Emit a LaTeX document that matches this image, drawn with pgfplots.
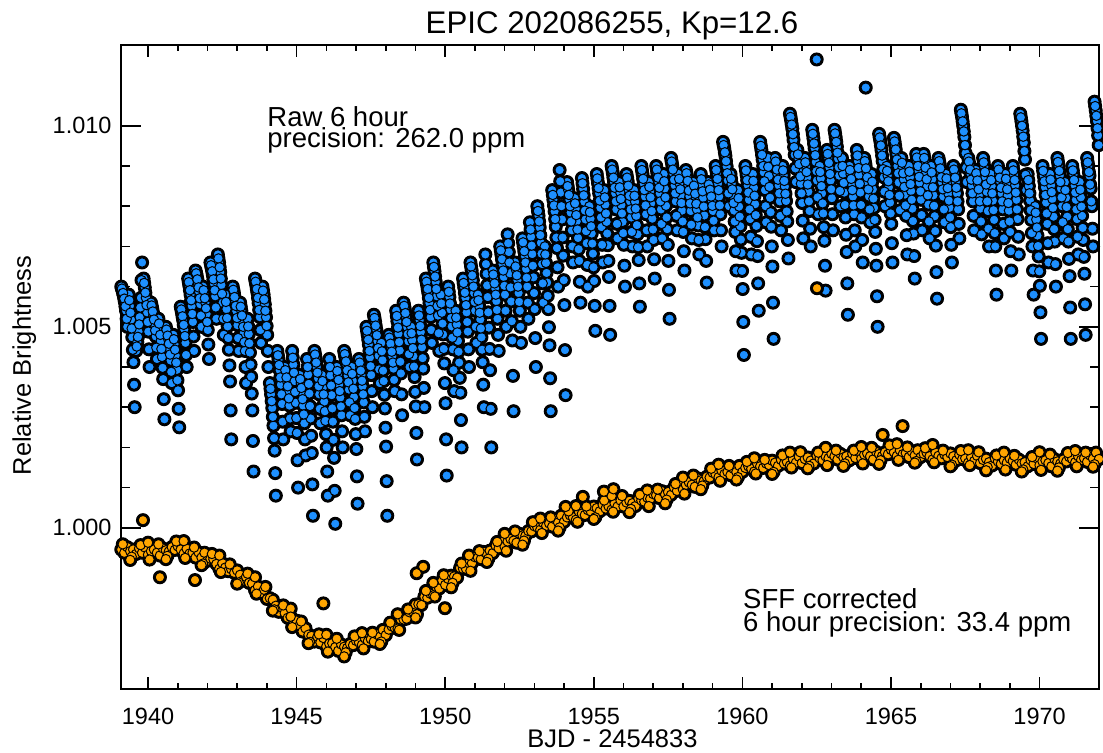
\documentclass[border=0pt]{standalone}
\usepackage{pgfplots}
\pgfplotsset{compat=1.18}
\usepackage{pgfplotstable}
\usepackage{fontspec}
\setmainfont{Liberation Sans}
\definecolor{rawblue}{RGB}{30,144,255}
\definecolor{sffor}{RGB}{255,165,0}

\pgfplotstableread{
x y
1939.10 1.0060
1939.14 1.0059
1939.18 1.00578
1939.22 1.00562
1939.26 1.0054
1939.30 1.0050
1939.35 1.0058
1939.39 1.00552
1939.43 1.00518
1939.47 1.00474
1939.51 1.00412
1939.55 1.0030
1939.60 1.0044
1939.64 1.00462
1939.68 1.00488
1939.72 1.00524
1939.76 1.00572
1939.80 1.0066
1939.85 1.0062
1939.89 1.00598
1939.93 1.00572
1939.97 1.00536
1940.01 1.00488
1940.05 1.0040
1940.10 1.0056
1940.14 1.00546
1940.18 1.00529
1940.22 1.00507
1940.26 1.00476
1940.30 1.0042
1940.35 1.0052
1940.39 1.00495
1940.43 1.00465
1940.47 1.00425
1940.51 1.0037
1940.55 1.0027
1940.60 1.0050
1940.64 1.00486
1940.68 1.00469
1940.72 1.00447
1940.76 1.00416
1940.80 1.0036
1940.85 1.0048
1940.89 1.00457
1940.93 1.00429
1940.97 1.00393
1941.01 1.00342
1941.05 1.0025
1941.10 1.0055
1941.14 1.00535
1941.18 1.00517
1941.22 1.00493
1941.26 1.0046
1941.30 1.0040
1941.35 1.0062
1941.39 1.00602
1941.43 1.0058
1941.47 1.00552
1941.51 1.00512
1941.55 1.0044
1941.60 1.0064
1941.64 1.00626
1941.68 1.00609
1941.72 1.00587
1941.76 1.00556
1941.80 1.0050
1941.85 1.0060
1941.89 1.00582
1941.93 1.0056
1941.97 1.00532
1942.01 1.00492
1942.05 1.0042
1942.10 1.0066
1942.14 1.00646
1942.18 1.00629
1942.22 1.00607
1942.26 1.00576
1942.30 1.0052
1942.35 1.0068
1942.39 1.0066
1942.43 1.00636
1942.47 1.00604
1942.51 1.0056
1942.55 1.0048
1942.60 1.0058
1942.64 1.00544
1942.68 1.00501
1942.72 1.00443
1942.76 1.00364
1942.80 1.0022
1942.85 1.0060
1942.89 1.00584
1942.93 1.00565
1942.97 1.00539
1943.01 1.00504
1943.05 1.0044
1943.10 1.0056
1943.14 1.0054
1943.18 1.00516
1943.22 1.00484
1943.26 1.0044
1943.30 1.0036
1943.35 1.0052
1943.39 1.00482
1943.43 1.00436
1943.47 1.00376
1943.51 1.00292
1943.55 1.0014
1943.60 1.0062
1943.64 1.00604
1943.68 1.00585
1943.72 1.00559
1943.76 1.00524
1943.80 1.0046
1943.85 1.0060
1943.89 1.0058
1943.93 1.00556
1943.97 1.00524
1944.01 1.0048
1944.05 1.0040
1944.10 1.0036
1944.14 1.00332
1944.18 1.00298
1944.22 1.00254
1944.26 1.00192
1944.30 1.0008
1944.35 1.0044
1944.39 1.00418
1944.43 1.00392
1944.47 1.00356
1944.51 1.00308
1944.55 1.0022
1944.60 1.0040
1944.64 1.00384
1944.68 1.00365
1944.72 1.00339
1944.76 1.00304
1944.80 1.0024
1944.85 1.0044
1944.89 1.00406
1944.93 1.00365
1944.97 1.00311
1945.01 1.00236
1945.05 1.0010
1945.10 1.0038
1945.14 1.0036
1945.18 1.00336
1945.22 1.00304
1945.26 1.0026
1945.30 1.0018
1945.35 1.0042
1945.39 1.00381
1945.43 1.00334
1945.47 1.00272
1945.51 1.00186
1945.55 1.0003
1945.60 1.0044
1945.64 1.00422
1945.68 1.0040
1945.72 1.00372
1945.76 1.00332
1945.80 1.0026
1945.85 1.0038
1945.89 1.0035
1945.93 1.00314
1945.97 1.00266
1946.01 1.0020
1946.05 1.0008
1946.10 1.0042
1946.14 1.00379
1946.18 1.0033
1946.22 1.00264
1946.26 1.00174
1946.30 1.0001
1946.35 1.0040
1946.39 1.0038
1946.43 1.00356
1946.47 1.00324
1946.51 1.0028
1946.55 1.0020
1946.60 1.0044
1946.64 1.00424
1946.68 1.00405
1946.72 1.00379
1946.76 1.00344
1946.80 1.0028
1946.85 1.0040
1946.89 1.00366
1946.93 1.00325
1946.97 1.00271
1947.01 1.00196
1947.05 1.0006
1947.10 1.0042
1947.14 1.00402
1947.18 1.0038
1947.22 1.00352
1947.26 1.00312
1947.30 1.0024
1947.35 1.0050
1947.39 1.0048
1947.43 1.00456
1947.47 1.00424
1947.51 1.0038
1947.55 1.0030
1947.60 1.0053
1947.64 1.00513
1947.68 1.00493
1947.72 1.00465
1947.76 1.00428
1947.80 1.0036
1947.85 1.0046
1947.89 1.00417
1947.93 1.00365
1947.97 1.00297
1948.01 1.00202
1948.05 1.0003
1948.10 1.0048
1948.14 1.00466
1948.18 1.00449
1948.22 1.00427
1948.26 1.00396
1948.30 1.0034
1948.35 1.0054
1948.39 1.00514
1948.43 1.00483
1948.47 1.00441
1948.51 1.00384
1948.55 1.0028
1948.60 1.0056
1948.64 1.00544
1948.68 1.00525
1948.72 1.00499
1948.76 1.00464
1948.80 1.0040
1948.85 1.0050
1948.89 1.00467
1948.93 1.00427
1948.97 1.00375
1949.01 1.00302
1949.05 1.0017
1949.10 1.0054
1949.14 1.00516
1949.18 1.00487
1949.22 1.00449
1949.26 1.00396
1949.30 1.0030
1949.35 1.0062
1949.39 1.00604
1949.43 1.00585
1949.47 1.00559
1949.51 1.00524
1949.55 1.0046
1949.60 1.0066
1949.64 1.00638
1949.68 1.00612
1949.72 1.00576
1949.76 1.00528
1949.80 1.0044
1949.85 1.0058
1949.89 1.00535
1949.93 1.00481
1949.97 1.00409
1950.01 1.0031
1950.05 1.0013
1950.10 1.0060
1950.14 1.00574
1950.18 1.00543
1950.22 1.00501
1950.26 1.00444
1950.30 1.0034
1950.35 1.0054
1950.39 1.00506
1950.43 1.00465
1950.47 1.00411
1950.51 1.00336
1950.55 1.0020
1950.60 1.0062
1950.64 1.00598
1950.68 1.00572
1950.72 1.00536
1950.76 1.00488
1950.80 1.0040
1950.85 1.0066
1950.89 1.0064
1950.93 1.00616
1950.97 1.00584
1951.01 1.0054
1951.05 1.0046
1951.10 1.0058
1951.14 1.00552
1951.18 1.00518
1951.22 1.00474
1951.26 1.00412
1951.30 1.0030
1951.35 1.0068
1951.39 1.00632
1951.43 1.00574
1951.47 1.00498
1951.51 1.00392
1951.55 1.0020
1951.60 1.0064
1951.64 1.0062
1951.68 1.00596
1951.72 1.00564
1951.76 1.0052
1951.80 1.0044
1951.85 1.0070
1951.89 1.0068
1951.93 1.00656
1951.97 1.00624
1952.01 1.0058
1952.05 1.0050
1952.10 1.0073
1952.14 1.00686
1952.18 1.00633
1952.22 1.00563
1952.26 1.00466
1952.30 1.0029
1952.35 1.0066
1952.39 1.0064
1952.43 1.00616
1952.47 1.00584
1952.51 1.0054
1952.55 1.0046
1952.60 1.0072
1952.64 1.0070
1952.68 1.00676
1952.72 1.00644
1952.76 1.0060
1952.80 1.0052
1952.85 1.0076
1952.89 1.00724
1952.93 1.00681
1952.97 1.00623
1953.01 1.00544
1953.05 1.0040
1953.10 1.0080
1953.14 1.00776
1953.18 1.00747
1953.22 1.00709
1953.26 1.00656
1953.30 1.0056
1953.35 1.0070
1953.39 1.00659
1953.43 1.0061
1953.47 1.00544
1953.51 1.00454
1953.55 1.0029
1953.60 1.0084
1953.64 1.00816
1953.68 1.00787
1953.72 1.00749
1953.76 1.00696
1953.80 1.0060
1953.85 1.0089
1953.89 1.00834
1953.93 1.00767
1953.97 1.00677
1954.01 1.00554
1954.05 1.0033
1954.10 1.0086
1954.14 1.0084
1954.18 1.00816
1954.22 1.00784
1954.26 1.0074
1954.30 1.0066
1954.35 1.0082
1954.39 1.00794
1954.43 1.00763
1954.47 1.00721
1954.51 1.00664
1954.55 1.0056
1954.60 1.0087
1954.64 1.00843
1954.68 1.00811
1954.72 1.00767
1954.76 1.00708
1954.80 1.0060
1954.85 1.0080
1954.89 1.00769
1954.93 1.00732
1954.97 1.00682
1955.01 1.00614
1955.05 1.0049
1955.10 1.0088
1955.14 1.00858
1955.18 1.00832
1955.22 1.00796
1955.26 1.00748
1955.30 1.0066
1955.35 1.0084
1955.39 1.00804
1955.43 1.00761
1955.47 1.00703
1955.51 1.00624
1955.55 1.0048
1955.60 1.0090
1955.64 1.00882
1955.68 1.0086
1955.72 1.00832
1955.76 1.00792
1955.80 1.0072
1955.85 1.0086
1955.89 1.00834
1955.93 1.00803
1955.97 1.00761
1956.01 1.00704
1956.05 1.0060
1956.10 1.0088
1956.14 1.00862
1956.18 1.0084
1956.22 1.00812
1956.26 1.00772
1956.30 1.0070
1956.35 1.0084
1956.39 1.00811
1956.43 1.00776
1956.47 1.0073
1956.51 1.00666
1956.55 1.0055
1956.60 1.0090
1956.64 1.0088
1956.68 1.00856
1956.72 1.00824
1956.76 1.0078
1956.80 1.0070
1956.85 1.0086
1956.89 1.00836
1956.93 1.00807
1956.97 1.00769
1957.01 1.00716
1957.05 1.0062
1957.10 1.0090
1957.14 1.00882
1957.18 1.0086
1957.22 1.00832
1957.26 1.00792
1957.30 1.0072
1957.35 1.0088
1957.39 1.00844
1957.43 1.00801
1957.47 1.00743
1957.51 1.00664
1957.55 1.0052
1957.60 1.0092
1957.64 1.00902
1957.68 1.0088
1957.72 1.00852
1957.76 1.00812
1957.80 1.0074
1957.85 1.0088
1957.89 1.00856
1957.93 1.00827
1957.97 1.00789
1958.01 1.00736
1958.05 1.0064
1958.10 1.0089
1958.14 1.00873
1958.18 1.00853
1958.22 1.00825
1958.26 1.00788
1958.30 1.0072
1958.35 1.0086
1958.39 1.00842
1958.43 1.0082
1958.47 1.00792
1958.51 1.00752
1958.55 1.0068
1958.60 1.0088
1958.64 1.00853
1958.68 1.00821
1958.72 1.00777
1958.76 1.00718
1958.80 1.0061
1958.85 1.0086
1958.89 1.00848
1958.93 1.00834
1958.97 1.00814
1959.01 1.00788
1959.05 1.0074
1959.10 1.0090
1959.14 1.0088
1959.18 1.00856
1959.22 1.00824
1959.26 1.0078
1959.30 1.0070
1959.35 1.0096
1959.39 1.00944
1959.43 1.00925
1959.47 1.00899
1959.51 1.00864
1959.55 1.0080
1959.60 1.0088
1959.64 1.00856
1959.68 1.00827
1959.72 1.00789
1959.76 1.00736
1959.80 1.0064
1959.85 1.0084
1959.89 1.00799
1959.93 1.0075
1959.97 1.00684
1960.01 1.00594
1960.05 1.0043
1960.10 1.0090
1960.14 1.00878
1960.18 1.00852
1960.22 1.00816
1960.26 1.00768
1960.30 1.0068
1960.35 1.0088
1960.39 1.00846
1960.43 1.00805
1960.47 1.00751
1960.51 1.00676
1960.55 1.0054
1960.60 1.0096
1960.64 1.0094
1960.68 1.00916
1960.72 1.00884
1960.76 1.0084
1960.80 1.0076
1960.85 1.0092
1960.89 1.00875
1960.93 1.00821
1960.97 1.00749
1961.01 1.0065
1961.05 1.0047
1961.10 1.0092
1961.14 1.00902
1961.18 1.0088
1961.22 1.00852
1961.26 1.00812
1961.30 1.0074
1961.35 1.0090
1961.39 1.00877
1961.43 1.00849
1961.47 1.00813
1961.51 1.00762
1961.55 1.0067
1961.60 1.0103
1961.64 1.01013
1961.68 1.00993
1961.72 1.00965
1961.76 1.00928
1961.80 1.0086
1961.85 1.0094
1961.89 1.00918
1961.93 1.00892
1961.97 1.00856
1962.01 1.00808
1962.05 1.0072
1962.10 1.0092
1962.14 1.00898
1962.18 1.00872
1962.22 1.00836
1962.26 1.00788
1962.30 1.0070
1962.35 1.0099
1962.39 1.00969
1962.43 1.00944
1962.47 1.0091
1962.51 1.00864
1962.55 1.0078
1962.60 1.0090
1962.64 1.00869
1962.68 1.00832
1962.72 1.00782
1962.76 1.00714
1962.80 1.0059
1962.85 1.0094
1962.89 1.0092
1962.93 1.00896
1962.97 1.00864
1963.01 1.0082
1963.05 1.0074
1963.10 1.0099
1963.14 1.00971
1963.18 1.00948
1963.22 1.00918
1963.26 1.00876
1963.30 1.0080
1963.35 1.0092
1963.39 1.00881
1963.43 1.00834
1963.47 1.00772
1963.51 1.00686
1963.55 1.0053
1963.60 1.0090
1963.64 1.0088
1963.68 1.00856
1963.72 1.00824
1963.76 1.0078
1963.80 1.0070
1963.85 1.0094
1963.89 1.00912
1963.93 1.00878
1963.97 1.00834
1964.01 1.00772
1964.05 1.0066
1964.10 1.0092
1964.14 1.00904
1964.18 1.00885
1964.22 1.00859
1964.26 1.00824
1964.30 1.0076
1964.35 1.0088
1964.39 1.00842
1964.43 1.00796
1964.47 1.00736
1964.51 1.00652
1964.55 1.0050
1964.60 1.0098
1964.64 1.00962
1964.68 1.0094
1964.72 1.00912
1964.76 1.00872
1964.80 1.0080
1964.85 1.0090
1964.89 1.00876
1964.93 1.00847
1964.97 1.00809
1965.01 1.00756
1965.05 1.0066
1965.10 1.0097
1965.14 1.00951
1965.18 1.00929
1965.22 1.0090
1965.26 1.00859
1965.30 1.0079
1965.35 1.0092
1965.39 1.00896
1965.43 1.00867
1965.47 1.00829
1965.51 1.00776
1965.55 1.0068
1965.60 1.0090
1965.64 1.00872
1965.68 1.00838
1965.72 1.00794
1965.76 1.00732
1965.80 1.0062
1965.85 1.0093
1965.89 1.00911
1965.93 1.00888
1965.97 1.00858
1966.01 1.00816
1966.05 1.0074
1966.10 1.0093
1966.14 1.00909
1966.18 1.00884
1966.22 1.0085
1966.26 1.00804
1966.30 1.0072
1966.35 1.0090
1966.39 1.00867
1966.43 1.00827
1966.47 1.00775
1966.51 1.00702
1966.55 1.0057
1966.60 1.0092
1966.64 1.00904
1966.68 1.00885
1966.72 1.00859
1966.76 1.00824
1966.80 1.0076
1966.85 1.0088
1966.89 1.00858
1966.93 1.00832
1966.97 1.00796
1967.01 1.00748
1967.05 1.0066
1967.10 1.0090
1967.14 1.00882
1967.18 1.0086
1967.22 1.00832
1967.26 1.00792
1967.30 1.0072
1967.35 1.0104
1967.39 1.01022
1967.43 1.0100
1967.47 1.00972
1967.51 1.00932
1967.55 1.0086
1967.60 1.0092
1967.64 1.00902
1967.68 1.0088
1967.72 1.00852
1967.76 1.00812
1967.80 1.0074
1967.85 1.0089
1967.89 1.00874
1967.93 1.00855
1967.97 1.00829
1968.01 1.00794
1968.05 1.0073
1968.10 1.0092
1968.14 1.00898
1968.18 1.00872
1968.22 1.00836
1968.26 1.00788
1968.30 1.0070
1968.35 1.0088
1968.39 1.0085
1968.43 1.00814
1968.47 1.00766
1968.51 1.0070
1968.55 1.0058
1968.60 1.0090
1968.64 1.00882
1968.68 1.0086
1968.72 1.00832
1968.76 1.00792
1968.80 1.0072
1968.85 1.0088
1968.89 1.00856
1968.93 1.00827
1968.97 1.00789
1969.01 1.00736
1969.05 1.0064
1969.10 1.0090
1969.14 1.00878
1969.18 1.00852
1969.22 1.00816
1969.26 1.00768
1969.30 1.0068
1969.35 1.0103
1969.39 1.01011
1969.43 1.00988
1969.47 1.00958
1969.51 1.00916
1969.55 1.0084
1969.60 1.0088
1969.64 1.0085
1969.68 1.00814
1969.72 1.00766
1969.76 1.0070
1969.80 1.0058
1969.85 1.0080
1969.89 1.00767
1969.93 1.00727
1969.97 1.00675
1970.01 1.00602
1970.05 1.0047
1970.10 1.0090
1970.14 1.00876
1970.18 1.00847
1970.22 1.00809
1970.26 1.00756
1970.30 1.0066
1970.35 1.0088
1970.39 1.00852
1970.43 1.00818
1970.47 1.00774
1970.51 1.00712
1970.55 1.0060
1970.60 1.0092
1970.64 1.0090
1970.68 1.00876
1970.72 1.00844
1970.76 1.0080
1970.80 1.0072
1970.85 1.0086
1970.89 1.00821
1970.93 1.00774
1970.97 1.00712
1971.01 1.00626
1971.05 1.0047
1971.10 1.0090
1971.14 1.00878
1971.18 1.00852
1971.22 1.00816
1971.26 1.00768
1971.30 1.0068
1971.35 1.0086
1971.39 1.00822
1971.43 1.00776
1971.47 1.00716
1971.51 1.00632
1971.55 1.0048
1971.60 1.0092
1971.64 1.0090
1971.68 1.00876
1971.72 1.00844
1971.76 1.0080
1971.80 1.0070
1971.85 1.0106
1971.89 1.01038
1971.93 1.01012
1971.97 1.00976
1972.01 1.00928
1972.05 1.0084
1962.50 1.01165
1964.15 1.01095
1939.12 1.00595
1939.16 1.00584
1939.20 1.0057
1939.24 1.00551
1939.28 1.0052
1939.37 1.00566
1939.41 1.00535
1939.45 1.00496
1939.49 1.00443
1939.53 1.00356
1939.62 1.00451
1939.66 1.00475
1939.70 1.00506
1939.74 1.00548
1939.78 1.00616
1939.87 1.00609
1939.91 1.00585
1939.95 1.00554
1939.99 1.00512
1940.03 1.00444
1940.12 1.00553
1940.16 1.00538
1940.20 1.00518
1940.24 1.00491
1940.28 1.00448
1940.37 1.00508
1940.41 1.0048
1940.45 1.00445
1940.49 1.00398
1940.53 1.0032
1940.62 1.00493
1940.66 1.00478
1940.70 1.00458
1940.74 1.00431
1940.78 1.00388
1940.87 1.00469
1940.91 1.00443
1940.95 1.00411
1940.99 1.00367
1941.03 1.00296
1941.12 1.00543
1941.16 1.00526
1941.20 1.00505
1941.24 1.00477
1941.28 1.0043
1941.37 1.00611
1941.41 1.00591
1941.45 1.00566
1941.49 1.00532
1941.53 1.00476
1941.62 1.00633
1941.66 1.00618
1941.70 1.00598
1941.74 1.00571
1941.78 1.00528
1941.87 1.00591
1941.91 1.00571
1941.95 1.00546
1941.99 1.00512
1942.03 1.00456
1942.12 1.00653
1942.16 1.00638
1942.20 1.00618
1942.24 1.00591
1942.28 1.00548
1942.37 1.0067
1942.41 1.00648
1942.45 1.0062
1942.49 1.00582
1942.53 1.0052
1942.62 1.00562
1942.66 1.00522
1942.70 1.00472
1942.74 1.00404
1942.78 1.00292
1942.87 1.00592
1942.91 1.00574
1942.95 1.00552
1942.99 1.00522
1943.03 1.00472
1943.12 1.0055
1943.16 1.00528
1943.20 1.0050
1943.24 1.00462
1943.28 1.0040
1943.37 1.00501
1943.41 1.00459
1943.45 1.00406
1943.49 1.00334
1943.53 1.00216
1943.62 1.00612
1943.66 1.00594
1943.70 1.00572
1943.74 1.00542
1943.78 1.00492
1943.87 1.0059
1943.91 1.00568
1943.95 1.0054
1943.99 1.00502
1944.03 1.0044
1944.12 1.00346
1944.16 1.00315
1944.20 1.00276
1944.24 1.00223
1944.28 1.00136
1944.37 1.00429
1944.41 1.00405
1944.45 1.00374
1944.49 1.00332
1944.53 1.00264
1944.62 1.00392
1944.66 1.00374
1944.70 1.00352
1944.74 1.00322
1944.78 1.00272
1944.87 1.00423
1944.91 1.00386
1944.95 1.00338
1944.99 1.00273
1945.03 1.00168
1945.12 1.0037
1945.16 1.00348
1945.20 1.0032
1945.24 1.00282
1945.28 1.0022
1945.37 1.0040
1945.41 1.00358
1945.45 1.00303
1945.49 1.00229
1945.53 1.00108
1945.62 1.00431
1945.66 1.00411
1945.70 1.00386
1945.74 1.00352
1945.78 1.00296
1945.87 1.00365
1945.91 1.00332
1945.95 1.0029
1945.99 1.00233
1946.03 1.0014
1946.12 1.0040
1946.16 1.00354
1946.20 1.00297
1946.24 1.00219
1946.28 1.00092
1946.37 1.0039
1946.41 1.00368
1946.45 1.0034
1946.49 1.00302
1946.53 1.0024
1946.62 1.00432
1946.66 1.00414
1946.70 1.00392
1946.74 1.00362
1946.78 1.00312
1946.87 1.00383
1946.91 1.00346
1946.95 1.00298
1946.99 1.00233
1947.03 1.00128
1947.12 1.00411
1947.16 1.00391
1947.20 1.00366
1947.24 1.00332
1947.28 1.00276
1947.37 1.0049
1947.41 1.00468
1947.45 1.0044
1947.49 1.00402
1947.53 1.0034
1947.62 1.00522
1947.66 1.00503
1947.70 1.00479
1947.74 1.00447
1947.78 1.00394
1947.87 1.00439
1947.91 1.00391
1947.95 1.00331
1947.99 1.00249
1948.03 1.00116
1948.12 1.00473
1948.16 1.00458
1948.20 1.00438
1948.24 1.00411
1948.28 1.00368
1948.37 1.00527
1948.41 1.00498
1948.45 1.00462
1948.49 1.00413
1948.53 1.00332
1948.62 1.00552
1948.66 1.00534
1948.70 1.00512
1948.74 1.00482
1948.78 1.00432
1948.87 1.00484
1948.91 1.00447
1948.95 1.00401
1948.99 1.00338
1949.03 1.00236
1949.12 1.00528
1949.16 1.00502
1949.20 1.00468
1949.24 1.00422
1949.28 1.00348
1949.37 1.00612
1949.41 1.00594
1949.45 1.00572
1949.49 1.00542
1949.53 1.00492
1949.62 1.00649
1949.66 1.00625
1949.70 1.00594
1949.74 1.00552
1949.78 1.00484
1949.87 1.00558
1949.91 1.00508
1949.95 1.00445
1949.99 1.0036
1950.03 1.0022
1950.12 1.00587
1950.16 1.00558
1950.20 1.00522
1950.24 1.00473
1950.28 1.00392
1950.37 1.00523
1950.41 1.00486
1950.45 1.00438
1950.49 1.00373
1950.53 1.00268
1950.62 1.00609
1950.66 1.00585
1950.70 1.00554
1950.74 1.00512
1950.78 1.00444
1950.87 1.0065
1950.91 1.00628
1950.95 1.0060
1950.99 1.00562
1951.03 1.0050
1951.12 1.00566
1951.16 1.00535
1951.20 1.00496
1951.24 1.00443
1951.28 1.00356
1951.37 1.00656
1951.41 1.00603
1951.45 1.00536
1951.49 1.00445
1951.53 1.00296
1951.62 1.0063
1951.66 1.00608
1951.70 1.0058
1951.74 1.00542
1951.78 1.0048
1951.87 1.0069
1951.91 1.00668
1951.95 1.0064
1951.99 1.00602
1952.03 1.0054
1952.12 1.00708
1952.16 1.0066
1952.20 1.00598
1952.24 1.00514
1952.28 1.00378
1952.37 1.0065
1952.41 1.00628
1952.45 1.0060
1952.49 1.00562
1952.53 1.0050
1952.62 1.0071
1952.66 1.00688
1952.70 1.0066
1952.74 1.00622
1952.78 1.0056
1952.87 1.00742
1952.91 1.00702
1952.95 1.00652
1952.99 1.00584
1953.03 1.00472
1953.12 1.00788
1953.16 1.00762
1953.20 1.00728
1953.24 1.00682
1953.28 1.00608
1953.37 1.0068
1953.41 1.00634
1953.45 1.00577
1953.49 1.00499
1953.53 1.00372
1953.62 1.00828
1953.66 1.00802
1953.70 1.00768
1953.74 1.00722
1953.78 1.00648
1953.87 1.00862
1953.91 1.0080
1953.95 1.00722
1953.99 1.00616
1954.03 1.00442
1954.12 1.0085
1954.16 1.00828
1954.20 1.0080
1954.24 1.00762
1954.28 1.0070
1954.37 1.00807
1954.41 1.00778
1954.45 1.00742
1954.49 1.00693
1954.53 1.00612
1954.62 1.00857
1954.66 1.00827
1954.70 1.00789
1954.74 1.00738
1954.78 1.00654
1954.87 1.00785
1954.91 1.0075
1954.95 1.00707
1954.99 1.00648
1955.03 1.00552
1955.12 1.00869
1955.16 1.00845
1955.20 1.00814
1955.24 1.00772
1955.28 1.00704
1955.37 1.00822
1955.41 1.00782
1955.45 1.00732
1955.49 1.00664
1955.53 1.00552
1955.62 1.00891
1955.66 1.00871
1955.70 1.00846
1955.74 1.00812
1955.78 1.00756
1955.87 1.00847
1955.91 1.00818
1955.95 1.00782
1955.99 1.00733
1956.03 1.00652
1956.12 1.00871
1956.16 1.00851
1956.20 1.00826
1956.24 1.00792
1956.28 1.00736
1956.37 1.00826
1956.41 1.00794
1956.45 1.00753
1956.49 1.00698
1956.53 1.00608
1956.62 1.0089
1956.66 1.00868
1956.70 1.0084
1956.74 1.00802
1956.78 1.0074
1956.87 1.00848
1956.91 1.00822
1956.95 1.00788
1956.99 1.00742
1957.03 1.00668
1957.12 1.00891
1957.16 1.00871
1957.20 1.00846
1957.24 1.00812
1957.28 1.00756
1957.37 1.00862
1957.41 1.00822
1957.45 1.00772
1957.49 1.00704
1957.53 1.00592
1957.62 1.00911
1957.66 1.00891
1957.70 1.00866
1957.74 1.00832
1957.78 1.00776
1957.87 1.00868
1957.91 1.00842
1957.95 1.00808
1957.99 1.00762
1958.03 1.00688
1958.12 1.00882
1958.16 1.00863
1958.20 1.00839
1958.24 1.00807
1958.28 1.00754
1958.37 1.00851
1958.41 1.00831
1958.45 1.00806
1958.49 1.00772
1958.53 1.00716
1958.62 1.00867
1958.66 1.00837
1958.70 1.00799
1958.74 1.00748
1958.78 1.00664
1958.87 1.00854
1958.91 1.00841
1958.95 1.00824
1958.99 1.00801
1959.03 1.00764
1959.12 1.0089
1959.16 1.00868
1959.20 1.0084
1959.24 1.00802
1959.28 1.0074
1959.37 1.00952
1959.41 1.00934
1959.45 1.00912
1959.49 1.00882
1959.53 1.00832
1959.62 1.00868
1959.66 1.00842
1959.70 1.00808
1959.74 1.00762
1959.78 1.00688
1959.87 1.0082
1959.91 1.00774
1959.95 1.00717
1959.99 1.00639
1960.03 1.00512
1960.12 1.00889
1960.16 1.00865
1960.20 1.00834
1960.24 1.00792
1960.28 1.00724
1960.37 1.00863
1960.41 1.00826
1960.45 1.00778
1960.49 1.00713
1960.53 1.00608
1960.62 1.0095
1960.66 1.00928
1960.70 1.0090
1960.74 1.00862
1960.78 1.0080
1960.87 1.00898
1960.91 1.00848
1960.95 1.00785
1960.99 1.0070
1961.03 1.0056
1961.12 1.00911
1961.16 1.00891
1961.20 1.00866
1961.24 1.00832
1961.28 1.00776
1961.37 1.00889
1961.41 1.00863
1961.45 1.00831
1961.49 1.00787
1961.53 1.00716
1961.62 1.01022
1961.66 1.01003
1961.70 1.00979
1961.74 1.00947
1961.78 1.00894
1961.87 1.00929
1961.91 1.00905
1961.95 1.00874
1961.99 1.00832
1962.03 1.00764
1962.12 1.00909
1962.16 1.00885
1962.20 1.00854
1962.24 1.00812
1962.28 1.00744
1962.37 1.0098
1962.41 1.00956
1962.45 1.00927
1962.49 1.00887
1962.53 1.00822
1962.62 1.00885
1962.66 1.0085
1962.70 1.00807
1962.74 1.00748
1962.78 1.00652
1962.87 1.0093
1962.91 1.00908
1962.95 1.0088
1962.99 1.00842
1963.03 1.0078
1963.12 1.00981
1963.16 1.0096
1963.20 1.00933
1963.24 1.00897
1963.28 1.00838
1963.37 1.0090
1963.41 1.00858
1963.45 1.00803
1963.49 1.00729
1963.53 1.00608
1963.62 1.0089
1963.66 1.00868
1963.70 1.0084
1963.74 1.00802
1963.78 1.0074
1963.87 1.00926
1963.91 1.00895
1963.95 1.00856
1963.99 1.00803
1964.03 1.00716
1964.12 1.00912
1964.16 1.00894
1964.20 1.00872
1964.24 1.00842
1964.28 1.00792
1964.37 1.00861
1964.41 1.00819
1964.45 1.00766
1964.49 1.00694
1964.53 1.00576
1964.62 1.00971
1964.66 1.00951
1964.70 1.00926
1964.74 1.00892
1964.78 1.00836
1964.87 1.00888
1964.91 1.00862
1964.95 1.00828
1964.99 1.00782
1965.03 1.00708
1965.12 1.00961
1965.16 1.00941
1965.20 1.00916
1965.24 1.00882
1965.28 1.00826
1965.37 1.00908
1965.41 1.00882
1965.45 1.00848
1965.49 1.00802
1965.53 1.00728
1965.62 1.00886
1965.66 1.00855
1965.70 1.00816
1965.74 1.00763
1965.78 1.00676
1965.87 1.00921
1965.91 1.0090
1965.95 1.00873
1965.99 1.00837
1966.03 1.00778
1966.12 1.0092
1966.16 1.00896
1966.20 1.00867
1966.24 1.00827
1966.28 1.00762
1966.37 1.00884
1966.41 1.00847
1966.45 1.00801
1966.49 1.00738
1966.53 1.00636
1966.62 1.00912
1966.66 1.00894
1966.70 1.00872
1966.74 1.00842
1966.78 1.00792
1966.87 1.00869
1966.91 1.00845
1966.95 1.00814
1966.99 1.00772
1967.03 1.00704
1967.12 1.00891
1967.16 1.00871
1967.20 1.00846
1967.24 1.00812
1967.28 1.00756
1967.37 1.01031
1967.41 1.01011
1967.45 1.00986
1967.49 1.00952
1967.53 1.00896
1967.62 1.00911
1967.66 1.00891
1967.70 1.00866
1967.74 1.00832
1967.78 1.00776
1967.87 1.00882
1967.91 1.00864
1967.95 1.00842
1967.99 1.00812
1968.03 1.00762
1968.12 1.00909
1968.16 1.00885
1968.20 1.00854
1968.24 1.00812
1968.28 1.00744
1968.37 1.00865
1968.41 1.00832
1968.45 1.0079
1968.49 1.00733
1968.53 1.0064
1968.62 1.00891
1968.66 1.00871
1968.70 1.00846
1968.74 1.00812
1968.78 1.00756
1968.87 1.00868
1968.91 1.00842
1968.95 1.00808
1968.99 1.00762
1969.03 1.00688
1969.12 1.00889
1969.16 1.00865
1969.20 1.00834
1969.24 1.00792
1969.28 1.00724
1969.37 1.01021
1969.41 1.0100
1969.45 1.00973
1969.49 1.00937
1969.53 1.00878
1969.62 1.00865
1969.66 1.00832
1969.70 1.0079
1969.74 1.00733
1969.78 1.0064
1969.87 1.00784
1969.91 1.00747
1969.95 1.00701
1969.99 1.00638
1970.03 1.00536
1970.12 1.00888
1970.16 1.00862
1970.20 1.00828
1970.24 1.00782
1970.28 1.00708
1970.37 1.00866
1970.41 1.00835
1970.45 1.00796
1970.49 1.00743
1970.53 1.00656
1970.62 1.0091
1970.66 1.00888
1970.70 1.0086
1970.74 1.00822
1970.78 1.0076
1970.87 1.0084
1970.91 1.00798
1970.95 1.00743
1970.99 1.00669
1971.03 1.00548
1971.12 1.00889
1971.16 1.00865
1971.20 1.00834
1971.24 1.00792
1971.28 1.00724
1971.37 1.00841
1971.41 1.00799
1971.45 1.00746
1971.49 1.00674
1971.53 1.00556
1971.62 1.00909
1971.66 1.00885
1971.70 1.00854
1971.74 1.00812
1971.78 1.00744
1971.87 1.01049
1971.91 1.01025
1971.95 1.00994
1971.99 1.00952
1972.03 1.00884
}\rawdata

\pgfplotstableread{
x y
1939.1 0.99946
1939.2 0.99938
1939.3 0.99952
1939.4 0.99942
1939.5 0.99946
1939.6 0.99935
1939.7 0.99949
1939.8 0.99938
1939.9 0.99951
1940.0 0.99933
1940.1 0.99942
1940.2 0.99946
1940.3 0.99938
1940.4 0.99931
1940.5 0.99949
1940.6 0.99944
1940.7 0.99941
1940.8 0.99952
1940.9 0.99945
1941.0 0.99954
1941.1 0.99946
1941.2 0.99936
1941.3 0.99948
1941.4 0.99936
1941.5 0.99938
1941.6 0.99926
1941.7 0.99939
1941.8 0.99926
1941.9 0.99938
1942.0 0.99918
1942.1 0.99923
1942.2 0.99922
1942.3 0.99910
1942.4 0.99898
1942.5 0.99912
1942.6 0.99901
1942.7 0.99892
1942.8 0.99897
1942.9 0.99888
1943.0 0.99894
1943.1 0.99883
1943.2 0.99869
1943.3 0.99878
1943.4 0.99863
1943.5 0.99861
1943.6 0.99845
1943.7 0.99854
1943.8 0.99838
1943.9 0.99846
1944.0 0.99823
1944.1 0.99825
1944.2 0.99821
1944.3 0.99806
1944.4 0.99791
1944.5 0.99802
1944.6 0.99788
1944.7 0.99776
1944.8 0.99778
1944.9 0.99766
1945.0 0.99769
1945.1 0.99757
1945.2 0.99742
1945.3 0.99750
1945.4 0.99734
1945.5 0.99731
1945.6 0.99717
1945.7 0.99729
1945.8 0.99715
1945.9 0.99726
1946.0 0.99705
1946.1 0.99712
1946.2 0.99713
1946.3 0.99703
1946.4 0.99694
1946.5 0.99710
1946.6 0.99704
1946.7 0.99701
1946.8 0.99711
1946.9 0.99708
1947.0 0.99719
1947.1 0.99715
1947.2 0.99709
1947.3 0.99725
1947.4 0.99718
1947.5 0.99723
1947.6 0.99717
1947.7 0.99735
1947.8 0.99729
1947.9 0.99746
1948.0 0.99733
1948.1 0.99747
1948.2 0.99755
1948.3 0.99752
1948.4 0.99749
1948.5 0.99772
1948.6 0.99772
1948.7 0.99774
1948.8 0.99790
1948.9 0.99792
1949.0 0.99809
1949.1 0.99810
1949.2 0.99808
1949.3 0.99829
1949.4 0.99826
1949.5 0.99836
1949.6 0.99832
1949.7 0.99853
1949.8 0.99849
1949.9 0.99869
1950.0 0.99858
1950.1 0.99873
1950.2 0.99881
1950.3 0.99879
1950.4 0.99876
1950.5 0.99900
1950.6 0.99898
1950.7 0.99898
1950.8 0.99912
1950.9 0.99912
1951.0 0.99927
1951.1 0.99926
1951.2 0.99922
1951.3 0.99940
1951.4 0.99935
1951.5 0.99943
1951.6 0.99937
1951.7 0.99955
1951.8 0.99949
1951.9 0.99966
1952.0 0.99953
1952.1 0.99966
1952.2 0.99972
1952.3 0.99968
1952.4 0.99963
1952.5 0.99985
1952.6 0.99981
1952.7 0.99980
1952.8 0.99992
1952.9 0.99991
1953.0 1.00004
1953.1 1.00001
1953.2 0.99995
1953.3 1.00012
1953.4 1.00005
1953.5 1.00011
1953.6 1.00003
1953.7 1.00021
1953.8 1.00013
1953.9 1.00030
1954.0 1.00015
1954.1 1.00026
1954.2 1.00031
1954.3 1.00026
1954.4 1.00020
1954.5 1.00040
1954.6 1.00035
1954.7 1.00032
1954.8 1.00044
1954.9 1.00041
1955.0 1.00053
1955.1 1.00049
1955.2 1.00041
1955.3 1.00057
1955.4 1.00048
1955.5 1.00053
1955.6 1.00045
1955.7 1.00061
1955.8 1.00053
1955.9 1.00068
1956.0 1.00053
1956.1 1.00063
1956.2 1.00067
1956.3 1.00061
1956.4 1.00054
1956.5 1.00073
1956.6 1.00068
1956.7 1.00065
1956.8 1.00075
1956.9 1.00072
1957.0 1.00084
1957.1 1.00081
1957.2 1.00074
1957.3 1.00091
1957.4 1.00083
1957.5 1.00089
1957.6 1.00082
1957.7 1.00100
1957.8 1.00092
1957.9 1.00109
1958.0 1.00095
1958.1 1.00107
1958.2 1.00113
1958.3 1.00107
1958.4 1.00102
1958.5 1.00123
1958.6 1.00118
1958.7 1.00116
1958.8 1.00127
1958.9 1.00125
1959.0 1.00137
1959.1 1.00133
1959.2 1.00126
1959.3 1.00142
1959.4 1.00134
1959.5 1.00139
1959.6 1.00131
1959.7 1.00147
1959.8 1.00139
1959.9 1.00154
1960.0 1.00139
1960.1 1.00149
1960.2 1.00153
1960.3 1.00147
1960.4 1.00140
1960.5 1.00159
1960.6 1.00153
1960.7 1.00149
1960.8 1.00160
1960.9 1.00156
1961.0 1.00167
1961.1 1.00162
1961.2 1.00154
1961.3 1.00169
1961.4 1.00160
1961.5 1.00164
1961.6 1.00155
1961.7 1.00171
1961.8 1.00162
1961.9 1.00177
1962.0 1.00161
1962.1 1.00171
1962.2 1.00175
1962.3 1.00167
1962.4 1.00160
1962.5 1.00179
1962.6 1.00173
1962.7 1.00168
1962.8 1.00178
1962.9 1.00173
1963.0 1.00184
1963.1 1.00178
1963.2 1.00170
1963.3 1.00184
1963.4 1.00175
1963.5 1.00178
1963.6 1.00168
1963.7 1.00184
1963.8 1.00174
1963.9 1.00189
1964.0 1.00172
1964.1 1.00182
1964.2 1.00185
1964.3 1.00178
1964.4 1.00170
1964.5 1.00189
1964.6 1.00183
1964.7 1.00178
1964.8 1.00188
1964.9 1.00183
1965.0 1.00194
1965.1 1.00188
1965.2 1.00179
1965.3 1.00193
1965.4 1.00183
1965.5 1.00186
1965.6 1.00176
1965.7 1.00190
1965.8 1.00180
1965.9 1.00193
1966.0 1.00176
1966.1 1.00184
1966.2 1.00187
1966.3 1.00178
1966.4 1.00170
1966.5 1.00187
1966.6 1.00179
1966.7 1.00173
1966.8 1.00182
1966.9 1.00176
1967.0 1.00185
1967.1 1.00178
1967.2 1.00168
1967.3 1.00182
1967.4 1.00171
1967.5 1.00173
1967.6 1.00162
1967.7 1.00176
1967.8 1.00166
1967.9 1.00179
1968.0 1.00161
1968.1 1.00169
1968.2 1.00172
1968.3 1.00163
1968.4 1.00155
1968.5 1.00172
1968.6 1.00165
1968.7 1.00159
1968.8 1.00168
1968.9 1.00162
1969.0 1.00172
1969.1 1.00166
1969.2 1.00157
1969.3 1.00170
1969.4 1.00160
1969.5 1.00163
1969.6 1.00153
1969.7 1.00168
1969.8 1.00159
1969.9 1.00173
1970.0 1.00156
1970.1 1.00165
1970.2 1.00168
1970.3 1.00161
1970.4 1.00153
1970.5 1.00171
1970.6 1.00165
1970.7 1.00160
1970.8 1.00170
1970.9 1.00165
1971.0 1.00176
1971.1 1.00171
1971.2 1.00163
1971.3 1.00178
1971.4 1.00169
1971.5 1.00173
1971.6 1.00164
1971.7 1.00180
1971.8 1.00172
1971.9 1.00187
1972.0 1.00171
1939.15 0.99959
1939.45 0.99928
1939.75 0.99957
1940.05 0.99921
1940.35 0.99959
1940.65 0.99930
1940.95 0.99966
1941.25 0.99925
1941.55 0.99951
1941.85 0.99911
1942.15 0.99935
1942.45 0.99890
1942.75 0.99909
1943.05 0.99864
1943.35 0.99886
1943.65 0.99836
1943.95 0.99853
1944.25 0.99797
1944.55 0.99807
1944.85 0.99753
1945.15 0.99767
1945.45 0.99716
1945.75 0.99735
1946.05 0.99692
1946.35 0.99724
1946.65 0.99690
1946.95 0.99730
1947.25 0.99700
1947.55 0.99739
1947.85 0.99717
1948.15 0.99764
1948.45 0.99746
1948.75 0.99797
1949.05 0.99785
1949.35 0.99843
1949.65 0.99829
1949.95 0.99882
1950.25 0.99863
1950.55 0.99911
1950.85 0.99893
1951.15 0.99942
1951.45 0.99923
1951.75 0.99965
1952.05 0.99943
1952.35 0.99991
1952.65 0.99968
1952.95 1.00014
1953.25 0.99987
1953.55 1.00026
1953.85 1.00001
1954.15 1.00041
1954.45 1.00015
1954.75 1.00053
1955.05 1.00026
1955.35 1.00068
1955.65 1.00040
1955.95 1.00079
1956.25 1.00047
1956.55 1.00082
1956.85 1.00054
1957.15 1.00095
1957.45 1.00070
1957.75 1.00109
1958.05 1.00085
1958.35 1.00130
1958.65 1.00105
1958.95 1.00147
1959.25 1.00117
1959.55 1.00154
1959.85 1.00126
1960.15 1.00164
1960.45 1.00135
1960.75 1.00169
1961.05 1.00139
1961.35 1.00180
1961.65 1.00150
1961.95 1.00188
1962.25 1.00154
1962.55 1.00187
1962.85 1.00156
1963.15 1.00192
1963.45 1.00160
1963.75 1.00192
1964.05 1.00160
1964.35 1.00199
1964.65 1.00168
1964.95 1.00205
1965.25 1.00169
1965.55 1.00200
1965.85 1.00166
1966.15 1.00198
1966.45 1.00163
1966.75 1.00192
1967.05 1.00157
1967.35 1.00191
1967.65 1.00156
1967.95 1.00188
1968.25 1.00151
1968.55 1.00180
1968.85 1.00145
1969.15 1.00179
1969.45 1.00145
1969.75 1.00176
1970.05 1.00144
1970.35 1.00182
1970.65 1.00150
1970.95 1.00186
1971.25 1.00153
1971.55 1.00187
1971.85 1.00158
1939.4 0.99920
1940.0 0.99963
1940.6 0.99922
1941.2 0.99967
1941.8 0.99907
1942.4 0.99931
1943.0 0.99861
1943.6 0.99877
1944.2 0.99794
1944.8 0.99799
1945.4 0.99713
1946.0 0.99734
1946.6 0.99680
1947.2 0.99738
1947.8 0.99711
1948.4 0.99785
1949.0 0.99777
1949.6 0.99863
1950.2 0.99852
1950.8 0.99931
1951.4 0.99915
1952.0 0.99985
1952.6 0.99958
1953.2 1.00023
1953.8 0.99993
1954.4 1.00054
1955.0 1.00022
1955.6 1.00079
1956.2 1.00039
1956.8 1.00093
1957.4 1.00061
1958.0 1.00125
1958.6 1.00096
1959.2 1.00157
1959.8 1.00120
1960.4 1.00173
1961.0 1.00134
1961.6 1.00187
1962.2 1.00148
1962.8 1.00199
1963.4 1.00154
1964.0 1.00201
1964.6 1.00159
1965.2 1.00208
1965.8 1.00162
1966.4 1.00206
1967.0 1.00153
1967.6 1.00193
1968.2 1.00143
1968.8 1.00187
1969.4 1.00140
1970.0 1.00188
1970.6 1.00142
1971.2 1.00191
1971.8 1.00152
1939.83 1.00019
1940.40 0.99877
1941.58 0.99870
1944.80 0.99779
1945.90 0.99812
1949.04 0.99887
1949.26 0.99903
1949.99 0.99800
1954.05 1.00052
1954.63 1.00077
1955.34 1.00090
1955.66 1.00096
1964.72 1.00231
1965.39 1.00253
1962.51 1.00596
}\sffdata

\begin{document}
\begin{tikzpicture}
\begin{axis}[
  name=ax,
  at={(0pt,0pt)}, anchor=south west,
  scale only axis,
  width=391.2pt, height=257.6pt,
  xmin=1939.09, xmax=1972.0,
  ymin=0.99599, ymax=1.01201,
  xtick={1940,1945,1950,1955,1960,1965,1970},
  xticklabels={1940,1945,1950,1955,1960,1965,1970},
  ytick={1.000,1.005,1.010},
  yticklabels={1.000,1.005,1.010},
  minor x tick num=4,
  minor y tick num=4,
  tick align=inside,
  xtick pos=both, ytick pos=both,
  xticklabel pos=bottom, yticklabel pos=left,
  axis on top,
  axis line style={black, line width=0.65pt},
  every tick/.style={black, line width=0.65pt},
  xtick style={/pgfplots/major tick length=4.8pt, /pgfplots/minor tick length=2.4pt},
  ytick style={/pgfplots/major tick length=8pt, /pgfplots/minor tick length=3.6pt},
  xticklabel style={font=\fontsize{9.4}{11}\selectfont, anchor=base, yshift=-14.2pt, inner sep=0pt},
  yticklabel style={font=\fontsize{9.4}{11}\selectfont, anchor=east, xshift=-3.6pt, inner sep=0pt},
  clip=true,
]
\addplot[only marks, mark=*, mark size=2.6pt, mark options={fill=black, draw=none}] table[x=x,y=y] {\rawdata};
\addplot[only marks, mark=*, mark size=1.9pt, mark options={fill=rawblue, draw=none}] table[x=x,y=y] {\rawdata};
\addplot[only marks, mark=*, mark size=2.6pt, mark options={fill=black, draw=none}] table[x=x,y=y] {\sffdata};
\addplot[only marks, mark=*, mark size=1.9pt, mark options={fill=sffor, draw=none}] table[x=x,y=y] {\sffdata};
\node[anchor=base west, inner sep=0pt, font=\fontsize{11}{13}\selectfont] at (axis cs:1944.0,1.00999) {\vtop{\baselineskip=8.7pt\lineskiplimit=-10pt\hbox{Raw 6 hour}\hbox{precision: 262.0 ppm}}};
\node[anchor=base west, inner sep=0pt, font=\fontsize{11}{13}\selectfont] at (axis cs:1960.01,0.997995) {\vtop{\baselineskip=9.36pt\lineskiplimit=-10pt\hbox{SFF corrected}\hbox{6 hour precision: 33.4 ppm}}};
\end{axis}
\node[anchor=base, inner sep=0pt, font=\fontsize{12.5}{15}\selectfont] at (196.4pt,262.3pt) {EPIC 202086255, Kp=12.6};
\node[anchor=base, inner sep=0pt, font=\fontsize{10.2}{12}\selectfont] at (196.6pt,-23.2pt) {BJD - 2454833};
\node[anchor=base, rotate=90, inner sep=0pt, font=\fontsize{10.2}{12}\selectfont] at (-36pt,129.4pt) {Relative Brightness};
\pgfresetboundingbox
\path[use as bounding box] (-48.4pt,-25.2pt) rectangle (392.8pt,275.6pt);
\end{tikzpicture}
\end{document}
